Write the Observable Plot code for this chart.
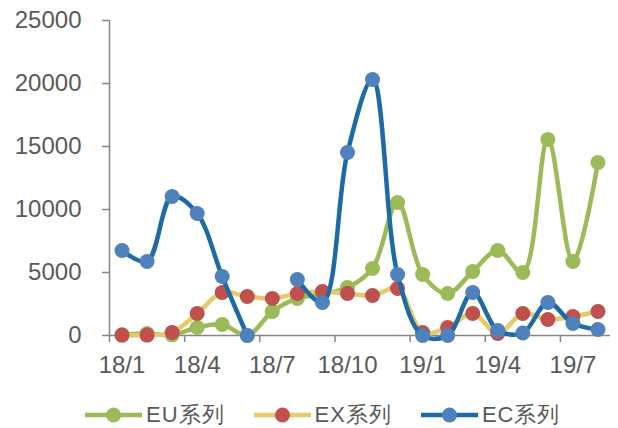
<!DOCTYPE html>
<html>
<head>
<meta charset="utf-8">
<script src="https://cdn.jsdelivr.net/npm/d3@7"></script>
<script src="https://cdn.jsdelivr.net/npm/@observablehq/plot@0.6"></script>
<style>
  html, body { margin: 0; padding: 0; background: #fff; }
  body { width: 618px; height: 428px; overflow: hidden; font-family: "Liberation Sans", Arial, sans-serif; }
  #chart svg { display: block; }
  #legend { display: flex; align-items: center; height: 24px; margin-top: 23px; padding-left: 85px; color: #595959; font-size: 22px; }
  .item { display: flex; align-items: center; margin-right: 29px; }
  .item svg { display: block; margin-right: 4px; }
  .item span { letter-spacing: 1px; }
</style>
</head>
<body>
<div id="chart"></div>
<div id="legend"></div>
<script>
const months = ["18/1","18/2","18/3","18/4","18/5","18/6","18/7","18/8","18/9","18/10","18/11","18/12",
                "19/1","19/2","19/3","19/4","19/5","19/6","19/7","19/8"];
const seriesNames = ["EU系列", "EX系列", "EC系列"];
const euValues = [50, 150, 50, 630, 870, 0, 1900, 2940, 3300, 3800, 5320, 10560, 4840, 3330, 5080, 6750, 5000, 15560, 5870, 13730];
const exValues = [30, 30, 240, 1750, 3410, 3100, 2940, 3330, 3490, 3330, 3170, 3730, 240, 630, 1750, 160, 1750, 1270, 1500, 1900];
const ecValues = [6750, 5870, 11030, 9680, 4680, 0, null, 4440, 2620, 14520, 20320, 4840, 0, 0, 3410, 400, 200, 2620, 950, 480];
const yTicks = [0, 5000, 10000, 15000, 20000, 25000];
const xTickIdx = [0, 3, 6, 9, 12, 15, 18];

const lineColors = ["#9BBB59", "#E8C96A", "#1C6BA6"];
const dotColors = ["#9BBB59", "#C0504D", "#4F81BD"];
const allValues = [euValues, exValues, ecValues];

const axisGray = "#868686";
const textGray = "#595959";

const seriesMarks = allValues.flatMap((vals, k) => {
  const rows = vals.map((v, i) => ({ i, v }));
  return [
    Plot.line(rows, { x: "i", y: "v", stroke: lineColors[k], strokeWidth: 4.5, curve: "catmull-rom" }),
    Plot.dot(rows.filter(d => d.v != null), { x: "i", y: "v", r: 7.5, fill: dotColors[k], stroke: "none" })
  ];
});

const plot = Plot.plot({
  width: 618,
  height: 380,
  marginLeft: 109,
  marginRight: 8,
  marginTop: 20,
  marginBottom: 45,
  style: { fontFamily: "'Liberation Sans', Arial, sans-serif", color: textGray, background: "#fff" },
  x: { type: "linear", domain: [-0.5, 19.5] },
  y: { domain: [0, 25000] },
  marks: [
    Plot.ruleY([0], { stroke: axisGray, strokeWidth: 1.5 }),
    Plot.ruleX([-0.5], { stroke: axisGray, strokeWidth: 1.5 }),
    Plot.axisY({ ticks: yTicks, tickSize: 7, tickPadding: 21, stroke: axisGray, strokeWidth: 1.5, fontSize: 24, label: null, tickFormat: d => String(d) }),
    Plot.axisX({ ticks: xTickIdx.map(i => i - 0.5), tickSize: 7, stroke: axisGray, strokeWidth: 1.5, tickFormat: () => "", label: null }),
    Plot.axisX({ ticks: xTickIdx, tickSize: 0, tickPadding: 20, fontSize: 24, tickFormat: i => months[i], label: null }),
    ...seriesMarks
  ]
});
document.getElementById("chart").appendChild(plot);

const legend = document.getElementById("legend");
seriesNames.forEach((name, k) => {
  const item = document.createElement("div");
  item.className = "item";
  item.innerHTML = `<svg width="57" height="18"><line x1="0" y1="9" x2="57" y2="9" stroke="${lineColors[k]}" stroke-width="4.5" stroke-linecap="round"/><circle cx="28.5" cy="9" r="7.5" fill="${dotColors[k]}"/></svg><span>${name}</span>`;
  legend.appendChild(item);
});
</script>
</body>
</html>
